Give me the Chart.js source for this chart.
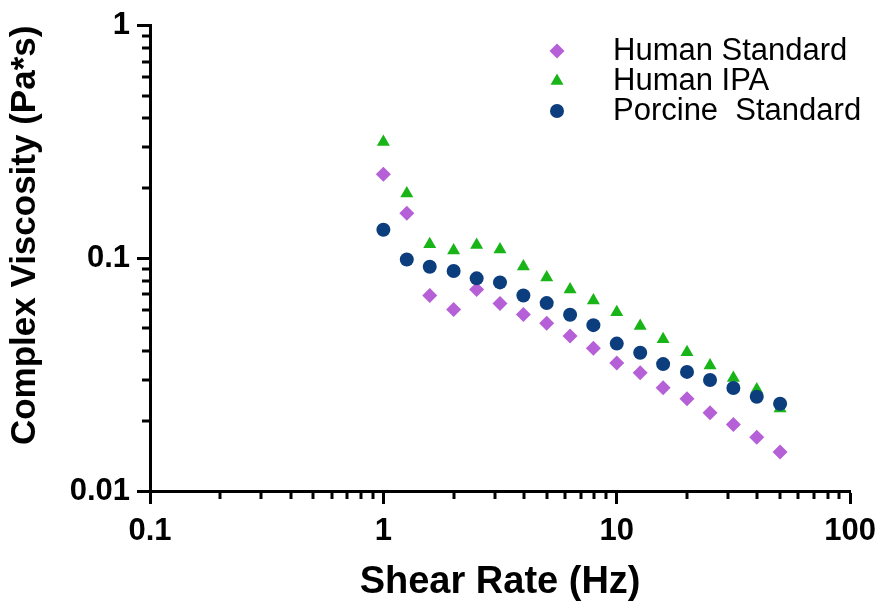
<!DOCTYPE html>
<html>
<head>
<meta charset="utf-8">
<script src="https://cdn.jsdelivr.net/npm/chart.js@4.4.1/dist/chart.umd.min.js"></script>
<style>
  html, body { margin: 0; padding: 0; background: #fff; }
  #wrap { width: 885px; height: 602px; }
</style>
</head>
<body>
<div id="wrap"><canvas id="chart" width="885" height="602"></canvas></div>
<script>
// data (Pa*s vs Hz)
const shearRate = [1, 1.26, 1.58, 2, 2.51, 3.16, 3.98, 5.01, 6.31, 7.94, 10, 12.6, 15.8, 20, 25.1, 31.6, 39.8, 50.1];
const humanStandard = [0.230, 0.156, 0.0692, 0.0603, 0.0734, 0.0640, 0.0574, 0.0526, 0.0463, 0.0411, 0.0355, 0.0322, 0.0278, 0.0249, 0.0217, 0.0193, 0.0170, 0.0147];
const humanIPA = [0.316, 0.190, 0.115, 0.108, 0.114, 0.109, 0.0923, 0.0826, 0.0734, 0.0659, 0.0586, 0.0512, 0.0449, 0.0395, 0.0346, 0.0306, 0.0273, 0.0226];
const porcineStandard = [0.1327, 0.0988, 0.0920, 0.0882, 0.0820, 0.0788, 0.0692, 0.0642, 0.0572, 0.0516, 0.0430, 0.0393, 0.0351, 0.0325, 0.0300, 0.0277, 0.0254, 0.0237];
const seriesNames = ["Human Standard", "Human IPA", "Porcine  Standard"];
const xTickLabels = ["0.1", "1", "10", "100"];
const yTickLabels = ["0.01", "0.1", "1"];

const FONT = '"Liberation Sans", Arial, sans-serif';

const isDecade = (v) => Math.abs(Math.log10(v) - Math.round(Math.log10(v))) < 1e-9;

// 1..9 per decade between the first and last printed label
function logTicks(labels) {
  const lo = Math.round(Math.log10(parseFloat(labels[0])));
  const hi = Math.round(Math.log10(parseFloat(labels[labels.length - 1])));
  const out = [];
  for (let e = lo; e < hi; e++) {
    for (let k = 1; k <= 9; k++) out.push(Number((k * Math.pow(10, e)).toPrecision(3)));
  }
  out.push(Math.pow(10, hi));
  return out.map(v => ({ value: v, major: isDecade(v) }));
}

function tickLabel(labels) {
  return (v) => {
    const hit = labels.find(l => Math.abs(parseFloat(l) - v) < 1e-9);
    return hit || "";
  };
}

const pts = (ys) => ys.map((y, i) => ({ x: shearRate[i], y }));

// minor ticks are shorter than the major ones
const minorTicks = {
  id: "minorTicks",
  afterDraw(chart) {
    const ctx = chart.ctx;
    const { x, y } = chart.scales;
    ctx.save();
    ctx.strokeStyle = "#000";
    ctx.lineWidth = 3;
    x.ticks.forEach(t => {
      if (isDecade(t.value)) return;
      const px = Math.round(x.getPixelForValue(t.value));
      ctx.beginPath(); ctx.moveTo(px, x.top); ctx.lineTo(px, x.top + 8); ctx.stroke();
    });
    y.ticks.forEach(t => {
      if (isDecade(t.value)) return;
      const py = Math.round(y.getPixelForValue(t.value));
      ctx.beginPath(); ctx.moveTo(y.right, py); ctx.lineTo(y.right - 8, py); ctx.stroke();
    });
    ctx.restore();
  }
};

// legend sits inside the plot, top right
const insetLegend = {
  id: "insetLegend",
  afterDraw(chart) {
    const ctx = chart.ctx;
    ctx.save();
    ctx.font = "31px " + FONT;
    ctx.textBaseline = "middle";
    chart.data.datasets.forEach((ds, i) => {
      const yy = 51 + i * 30;
      ctx.fillStyle = ds.backgroundColor;
      Chart.helpers.drawPoint(ctx, { pointStyle: ds.pointStyle, radius: ds.pointRadius, rotation: 0, borderWidth: 0 }, 557, yy);
      ctx.fillStyle = "#000";
      ctx.fillText(ds.label, 613, yy);
    });
    ctx.restore();
  }
};

const axisTicks = (labels) => ({
  autoSkip: false,
  maxRotation: 0,
  color: "#000",
  font: { family: FONT, size: 31, weight: "bold" },
  callback: tickLabel(labels)
});

const axisGrid = {
  drawOnChartArea: false,
  tickLength: 13,
  tickWidth: 3,
  tickColor: (c) => (c.tick && isDecade(c.tick.value)) ? "#000" : "rgba(0,0,0,0)"
};

new Chart(document.getElementById("chart"), {
  type: "scatter",
  data: {
    datasets: [
      { label: seriesNames[0], data: pts(humanStandard), pointStyle: "rectRot", pointRadius: 7.5, backgroundColor: "#b660d8", borderWidth: 0, order: 3 },
      { label: seriesNames[1], data: pts(humanIPA), pointStyle: "triangle", pointRadius: 7.5, backgroundColor: "#18b418", borderWidth: 0, order: 2 },
      { label: seriesNames[2], data: pts(porcineStandard), pointStyle: "circle", pointRadius: 7, backgroundColor: "#0c3d7d", borderWidth: 0, order: 1 }
    ]
  },
  options: {
    responsive: false,
    animation: false,
    layout: { padding: { top: 22, right: 32, left: 0, bottom: 0 } },
    plugins: { legend: { display: false }, tooltip: { enabled: false } },
    scales: {
      x: {
        type: "logarithmic",
        position: "bottom",
        min: 0.1, max: 100,
        afterBuildTicks: (s) => { s.ticks = logTicks(xTickLabels); },
        afterFit: (s) => { s.height = 111; },
        ticks: Object.assign(axisTicks(xTickLabels), { padding: 9 }),
        grid: axisGrid,
        border: { display: true, width: 3, color: "#000" },
        title: { display: true, text: "Shear Rate (Hz)", color: "#000", font: { family: FONT, size: 38, weight: "bold", lineHeight: 1 }, padding: { top: 0, bottom: 0 } }
      },
      y: {
        type: "logarithmic",
        position: "left",
        min: 0.01, max: 1,
        afterBuildTicks: (s) => { s.ticks = logTicks(yTickLabels); },
        afterFit: (s) => { s.width = 150; },
        ticks: Object.assign(axisTicks(yTickLabels), { padding: 7 }),
        grid: axisGrid,
        border: { display: true, width: 3, color: "#000" },
        title: { display: true, text: "Complex Viscosity (Pa*s)", align: "end", color: "#000", font: { family: FONT, size: 35, weight: "bold", lineHeight: 1 }, padding: { top: 8, bottom: 0 } }
      }
    }
  },
  plugins: [minorTicks, insetLegend]
});
</script>
</body>
</html>
